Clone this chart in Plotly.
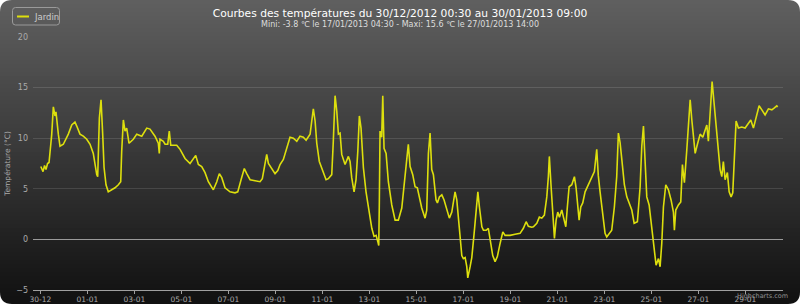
import plotly.graph_objects as go
import pandas as pd

# ---------------- data ----------------
series_name = "Jardin"
start = pd.Timestamp("2012-12-30 00:00")
hours = [0.5, 2.8, 4.3, 5.8, 7.4, 8.9, 11.6, 13.3, 15.0, 16.0, 18.4, 20.1, 23.5, 28.6, 32.1, 35.4, 37.2, 40.5,
         43.9, 47.4, 50.8, 54.1, 57.6, 58.6, 60.3, 62.0, 63.7, 65.1, 67.1, 69.4, 72.9, 76.3, 79.7, 82.1, 83.1,
         84.8, 86.5, 88.2, 90.6, 95.0, 98.5, 103.6, 108.7, 112.0, 117.1, 120.5, 121.5, 122.2, 125.6, 127.4,
         130.1, 131.7, 133.2, 139.3, 142.7, 147.8, 152.9, 156.3, 158.7, 161.4, 164.8, 168.2, 171.6, 176.7,
         180.2, 182.8, 185.3, 188.6, 193.7, 198.8, 201.6, 205.0, 208.3, 210.8, 214.2, 219.3, 224.4, 226.7,
         229.5, 231.2, 232.9, 236.3, 239.7, 242.5, 244.8, 248.2, 251.6, 255.0, 258.4, 261.9, 265.2, 268.6,
         271.4, 275.5, 277.2, 278.8, 280.6, 282.3, 284.9, 288.4, 291.8, 294.1, 297.6, 299.2, 301.0, 302.7,
         304.4, 306.1, 307.8, 311.2, 314.6, 316.3, 318.0, 320.4, 322.4, 324.2, 325.8, 327.5, 329.9, 332.6,
         335.0, 336.7, 338.5, 340.8, 342.9, 344.6, 345.6, 346.2, 346.9, 348.6, 349.7, 351.0, 353.1, 355.4,
         358.9, 362.3, 365.6, 369.1, 372.5, 374.2, 375.8, 377.6, 380.3, 382.7, 385.0, 387.1, 389.5, 392.9,
         394.6, 396.3, 398.0, 399.7, 401.4, 404.1, 405.5, 407.5, 410.0, 412.3, 415.0, 417.7, 420.2, 423.5,
         425.3, 427.9, 430.4, 432.0, 433.8, 435.5, 436.5, 438.9, 440.6, 443.0, 445.0, 446.8, 448.4, 450.9,
         452.5, 455.3, 457.5, 459.3, 462.0, 464.4, 466.7, 469.5, 472.3, 474.6, 479.7, 484.8, 489.9, 493.3,
         496.1, 498.4, 501.8, 503.5, 507.0, 509.6, 512.1, 514.7, 517.2, 518.8, 519.8, 521.6, 523.3, 525.0,
         526.7, 528.4, 530.1, 532.5, 534.2, 536.6, 538.2, 540.0, 542.7, 545.4, 547.1, 548.9, 550.2, 551.9,
         553.9, 556.3, 559.7, 563.1, 565.8, 568.2, 569.8, 571.6, 574.3, 576.7, 578.4, 581.1, 583.5, 586.2,
         588.6, 590.3, 592.0, 593.8, 596.4, 598.9, 601.5, 604.0, 606.4, 609.7, 612.5, 614.2, 615.9, 617.6,
         619.3, 621.7, 624.5, 626.8, 628.8, 631.2, 632.9, 634.6, 636.3, 638.7, 641.4, 644.1, 646.5, 647.5,
         648.9, 651.6, 654.0, 655.7, 657.7, 660.2, 661.8, 663.6, 665.3, 666.9, 668.7, 671.0, 673.8, 676.5,
         678.9, 680.6, 682.2, 683.5, 684.8, 686.0, 688.0, 690.8, 692.4, 694.2, 695.9, 697.5, 699.3, 701.6,
         703.4, 705.4, 707.1, 708.8, 710.5, 712.9, 716.3, 719.7, 723.1, 725.5, 728.2, 731.6, 734.0, 736.8,
         740.1, 743.5, 747.0, 749.6, 752.0, 753.0]
temps = [7.2, 6.7, 7.3, 6.9, 7.5, 7.6, 10.3, 13.1, 12.2, 12.6, 10.4, 9.2, 9.4, 10.4, 11.3, 11.6, 11.2, 10.4,
         10.2, 9.9, 9.4, 8.5, 6.4, 6.2, 12.0, 13.8, 10.4, 7.1, 5.4, 4.7, 4.9, 5.1, 5.4, 5.7, 8.7,
         11.8, 10.7, 11.0, 9.5, 9.9, 10.4, 10.2, 11.0, 10.9, 10.2, 9.5, 8.5, 9.9, 9.7, 9.4,
         9.4, 10.7, 9.3, 9.3, 8.9, 8.0, 7.5, 8.0, 8.3, 7.4, 7.2, 6.6, 5.7, 4.9,
         5.7, 6.5, 6.1, 5.1, 4.7, 4.6, 4.7, 5.9, 7.0, 6.5, 5.9, 5.8, 5.7, 6.0,
         7.4, 8.4, 7.5, 7.0, 6.5, 6.8, 7.4, 7.9, 9.0, 10.1, 10.0, 9.7, 10.2, 10.1,
         9.8, 10.4, 11.7, 12.9, 11.7, 9.5, 7.7, 6.7, 5.9, 6.0, 6.4, 9.7, 14.2, 12.7,
         10.4, 10.5, 8.4, 7.4, 8.2, 7.7, 6.1, 4.7, 5.9, 8.7, 12.2, 11.0, 7.1, 4.7,
         3.1, 2.4, 1.1, 0.3, 0.4, -0.2, -0.6, 3.7, 10.7, 10.1, 14.2, 9.0, 8.5, 5.7,
         3.4, 1.9, 1.9, 3.1, 5.9, 7.9, 9.4, 7.2, 6.4, 5.2, 5.1, 4.2, 3.1, 2.1,
         2.9, 8.5, 10.5, 6.9, 6.4, 3.9, 3.6, 4.2, 4.4, 3.9, 3.1, 2.1, 2.7, 4.7,
         3.9, 0.6, -1.6, -1.9, -1.8, -2.7, -3.8, -2.7, -1.8, 0.6, 3.2, 4.7, 3.2, 1.25,
         0.9, 0.9, 1.1, -0.1, -1.6, -2.2, -1.7, -0.4, 0.75, 0.4, 0.4, 0.5, 0.6, 1.1,
         1.75, 1.3, 1.2, 1.25, 1.6, 2.2, 2.1, 2.4, 4.2, 6.2, 8.2, 5.2, 2.2, 0.1,
         1.9, 2.7, 2.2, 2.9, 2.2, 1.25, 3.2, 5.2, 5.4, 6.2, 5.1, 2.9, 1.9, 3.2,
         3.6, 4.7, 5.4, 6.1, 6.7, 8.9, 6.3, 4.7, 2.2, 0.6, 0.25, 0.6, 0.9, 3.2,
         6.2, 10.5, 9.6, 7.9, 5.4, 4.2, 3.6, 2.9, 1.6, 1.75, 5.2, 9.2, 11.2, 6.9,
         4.2, 3.4, 0.9, -1.1, -2.55, -1.9, -2.7, -0.4, 3.2, 5.4, 4.9, 3.9, 2.7, 0.9,
         2.9, 3.4, 3.7, 7.4, 5.6, 8.9, 11.5, 13.8, 11.8, 9.9, 8.5, 9.4, 10.4, 10.1,
         10.7, 11.3, 9.7, 12.5, 13.7, 15.6, 13.5, 9.9, 8.2, 6.9, 6.2, 7.7, 5.9, 6.6,
         4.7, 4.2, 4.6, 8.5, 11.7, 11.0, 11.1, 11.0, 11.5, 11.8, 11.0, 12.2, 13.2, 12.8,
         12.3, 12.9, 12.8, 13.0, 13.2, 13.1]
assert len(hours) == len(temps), (len(hours), len(temps))

title_text = "Courbes des températures du 30/12/2012 00:30 au 30/01/2013 09:00"
subtitle_text = "Mini: -3.8 \u2103 le 17/01/2013 04:30 - Maxi: 15.6 \u2103 le 27/01/2013 14:00"
y_title = "Température (°C)"
x_range = ["2012-12-29 16:32", "2013-01-30 14:24"]
y_range = [-5, 20]
credit_text = "Highcharts.com"

times = start + pd.to_timedelta(hours, unit="h")

# ---------------- layout geometry ----------------
W, H = 800, 304
L, R, T, B = 33, 17, 37, 14
PW, PH = W - L - R, H - T - B
FONT = "DejaVu Sans"


def fx(px):
    return (px - L) / PW


def fy(py):
    return 1 - (py - T) / PH


shapes = []
# background gradient (Highcharts "gray" theme)
step = 4
for i in range(0, H, step):
    c = int(round(96 - 80 * (i + step / 2) / H))
    shapes.append(dict(type="rect", xref="paper", yref="paper", x0=fx(0), x1=fx(W),
                       y0=fy(min(H, i + step + 0.6)), y1=fy(i), fillcolor=f"rgb({c},{c},{c})",
                       line=dict(width=0), layer="below"))
# rounded corners (white masks)
r = 12
corners = [((0, 0), (r, 0), (0, r)), ((W, 0), (W - r, 0), (W, r)),
           ((0, H), (r, H), (0, H - r)), ((W, H), (W - r, H), (W, H - r))]
for (cx, cy), (ax, ay), (bx, by) in corners:
    path = (f"M {fx(cx)},{fy(cy)} L {fx(ax)},{fy(ay)} Q {fx(cx)},{fy(cy)} {fx(bx)},{fy(by)} Z")
    shapes.append(dict(type="path", xref="paper", yref="paper", path=path,
                       fillcolor="white", line=dict(width=0), layer="below"))

# legend box (Highcharts style)
lx0, ly0, lx1, ly1, lr = 12.5, 7.5, 59.5, 25, 3
lp = (f"M {fx(lx0+lr)},{fy(ly0)} L {fx(lx1-lr)},{fy(ly0)} Q {fx(lx1)},{fy(ly0)} {fx(lx1)},{fy(ly0+lr)} "
      f"L {fx(lx1)},{fy(ly1-lr)} Q {fx(lx1)},{fy(ly1)} {fx(lx1-lr)},{fy(ly1)} "
      f"L {fx(lx0+lr)},{fy(ly1)} Q {fx(lx0)},{fy(ly1)} {fx(lx0)},{fy(ly1-lr)} "
      f"L {fx(lx0)},{fy(ly0+lr)} Q {fx(lx0)},{fy(ly0)} {fx(lx0+lr)},{fy(ly0)} Z")
shapes.append(dict(type="path", xref="paper", yref="paper", path=lp,
                   line=dict(color="#9a9a9a", width=1), fillcolor="rgba(0,0,0,0)"))
shapes.append(dict(type="line", xref="paper", yref="paper", x0=fx(17), x1=fx(29), y0=fy(16.5), y1=fy(16.5),
                   line=dict(color="#DDDF0D", width=2)))

annotations = [
    dict(text=subtitle_text, xref="paper", yref="paper", x=fx(400), y=fy(24), xanchor="center",
         yanchor="middle", showarrow=False, font=dict(family=FONT, size=8, color="#DDDDDD")),
    dict(text=series_name, xref="paper", yref="paper", x=fx(32), y=fy(16.5), xanchor="left",
         yanchor="middle", showarrow=False, font=dict(family=FONT, size=8.5, color="#CCCCCC")),
    dict(text=credit_text, xref="paper", yref="paper", x=fx(790), y=fy(296), xanchor="right",
         yanchor="middle", showarrow=False, font=dict(family=FONT, size=6.5, color="#909090")),
]

fig = go.Figure()
fig.add_trace(go.Scatter(x=times, y=temps, mode="lines", name=series_name,
                         line=dict(color="#DDDF0D", width=1.6), showlegend=False))

fig.update_layout(
    width=W, height=H,
    margin=dict(l=L, r=R, t=T, b=B, autoexpand=False),
    paper_bgcolor="white", plot_bgcolor="rgba(0,0,0,0)",
    title=dict(text=title_text, x=0.5, xref="container", xanchor="center",
               y=1 - 13 / H, yref="container", yanchor="middle",
               font=dict(family=FONT, size=10.7, color="#FFFFFF")),
    shapes=shapes, annotations=annotations,
    showlegend=False,
    xaxis=dict(type="date", range=x_range, tick0="2012-12-30", dtick=2 * 86400000, tickformat="%d-%m",
               showgrid=False, showline=True, linecolor="#a0a0a0", linewidth=1,
               ticks="outside", ticklen=3, tickcolor="#a0a0a0", tickwidth=1, ticklabelstandoff=-1,
               tickfont=dict(family=FONT, size=7.5, color="#aaaaaa"), zeroline=False, automargin=False),
    yaxis=dict(range=y_range, dtick=5, tick0=0, showgrid=True, gridcolor="rgba(255,255,255,0.12)",
               gridwidth=1, zeroline=True, zerolinecolor="#9a9a9a", zerolinewidth=1,
               showline=False, ticks="", ticklabelstandoff=4,
               tickfont=dict(family=FONT, size=8, color="#aaaaaa"),
               title=dict(text=y_title, standoff=4, font=dict(family=FONT, size=7.5, color="#aaaaaa")),
               automargin=False),
)

fig.write_html("out.html")
